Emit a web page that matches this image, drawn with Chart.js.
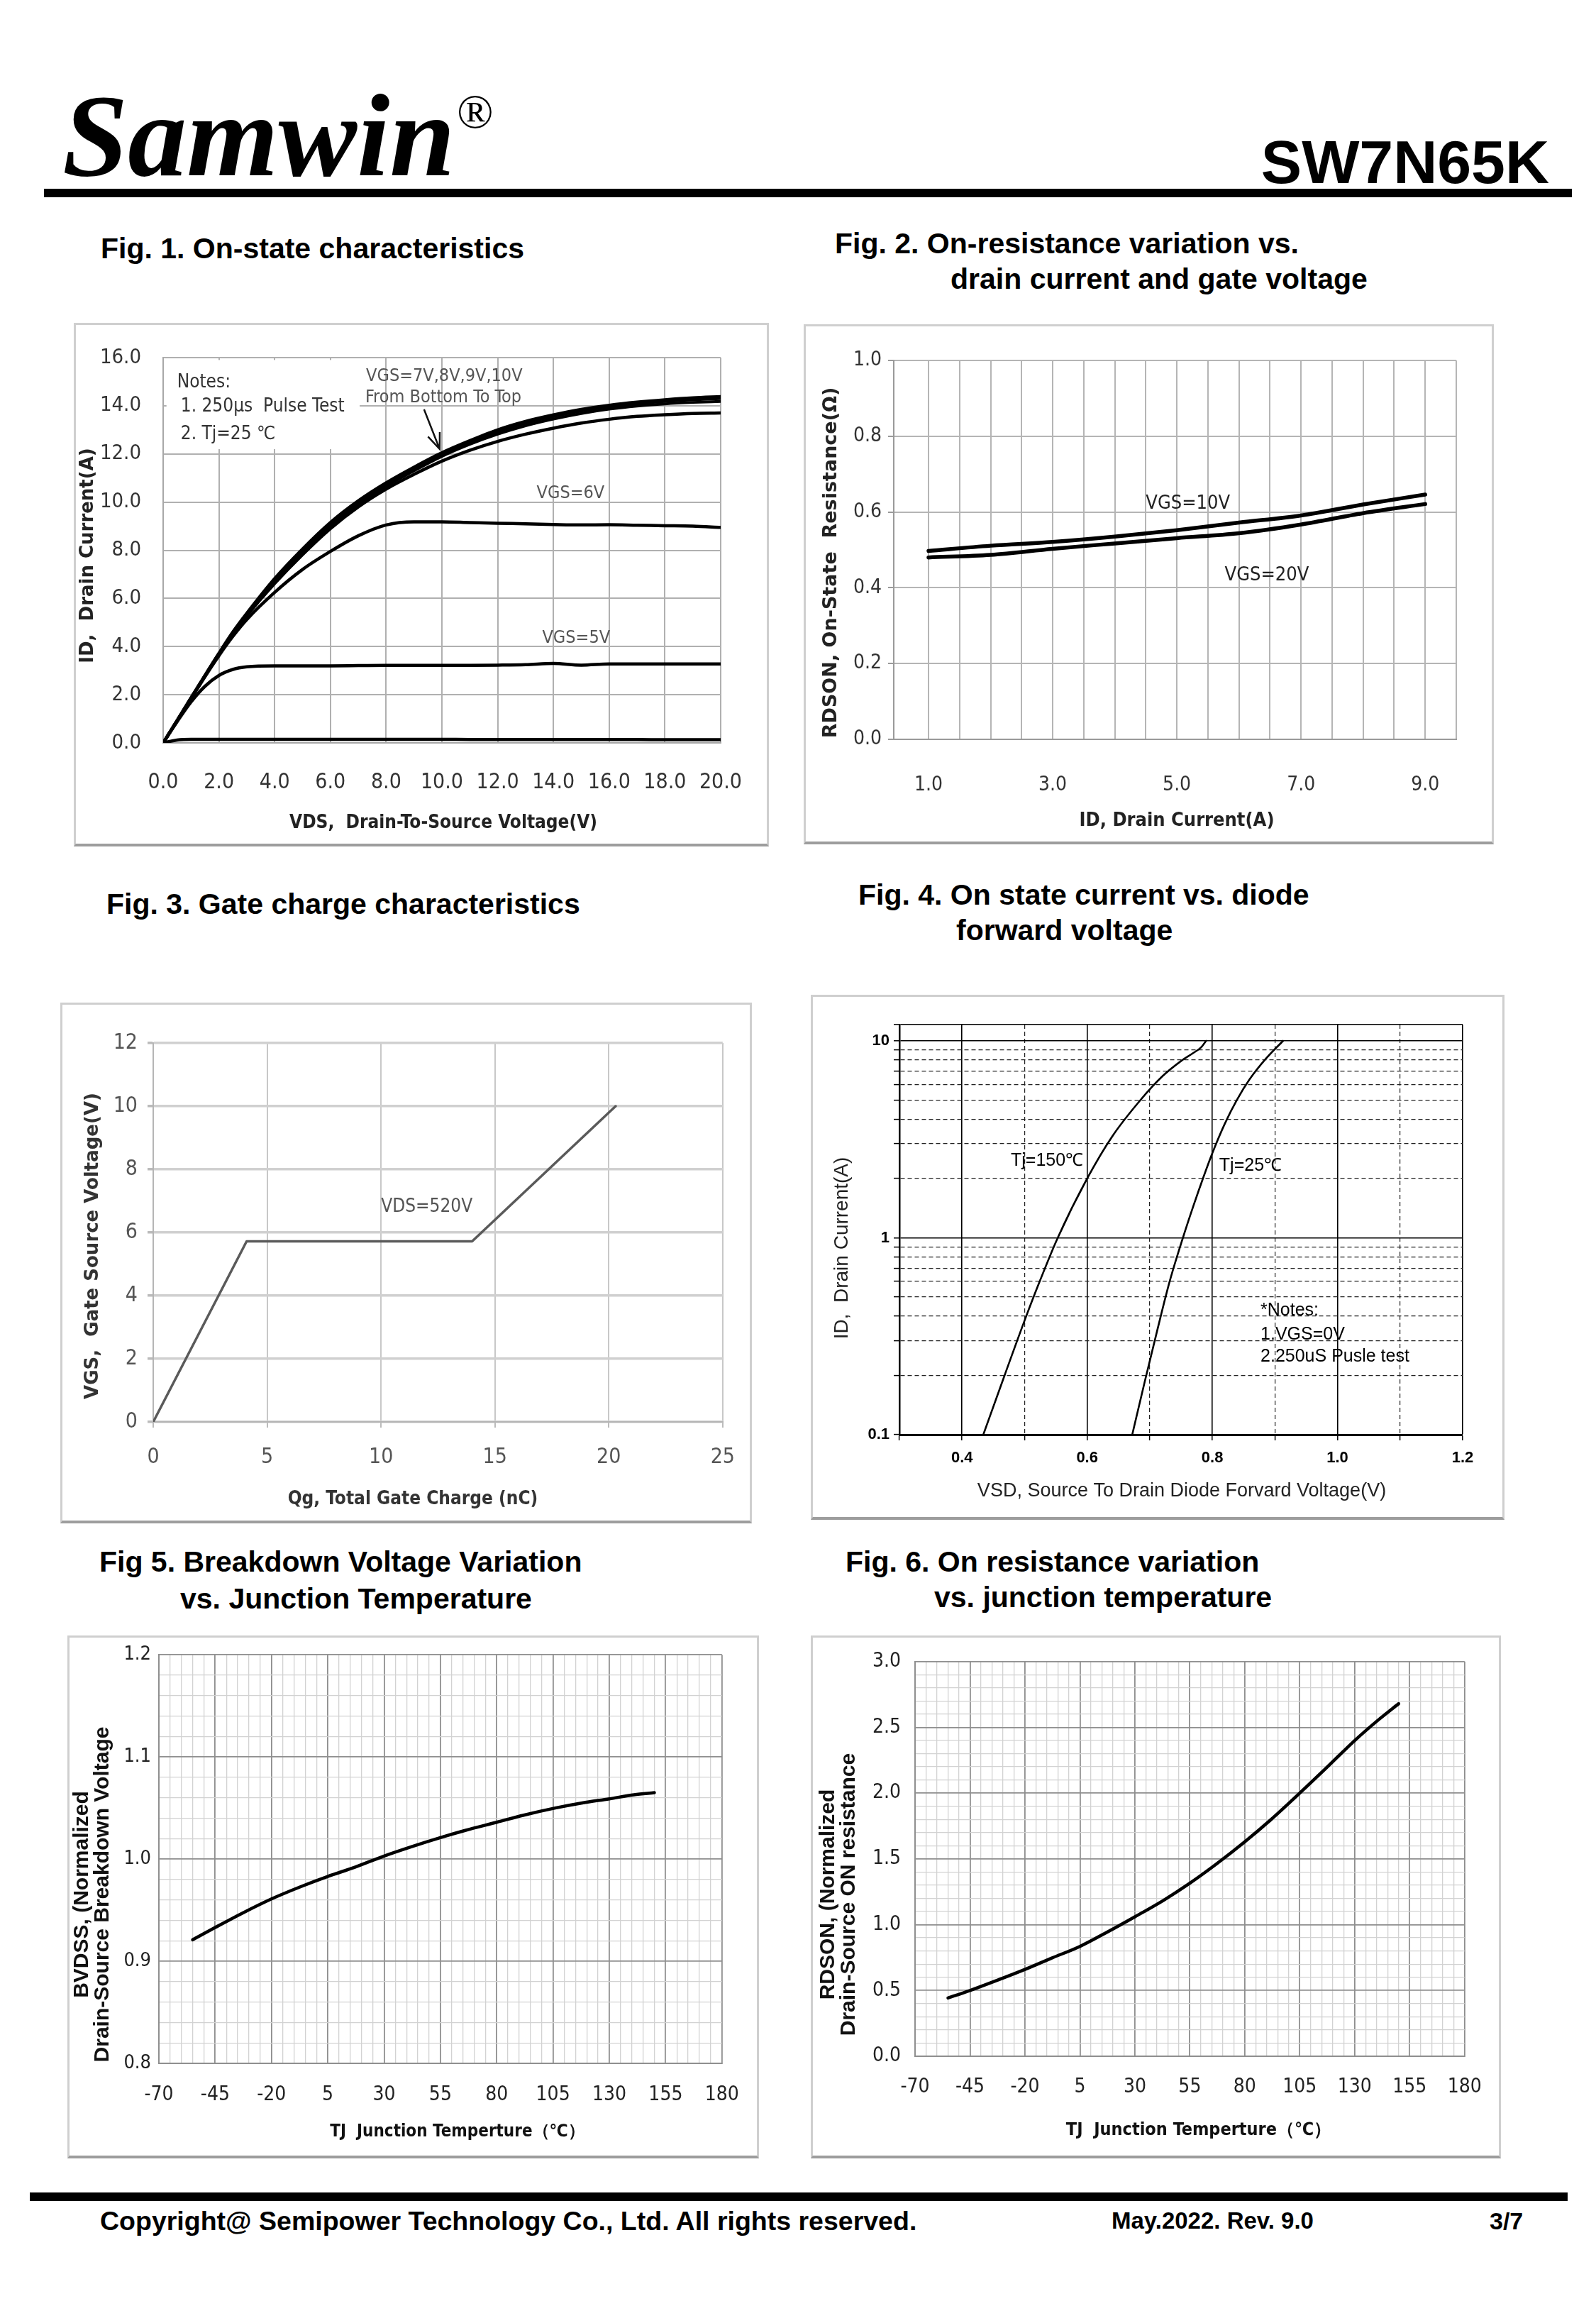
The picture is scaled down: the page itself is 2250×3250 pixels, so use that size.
<!DOCTYPE html>
<html><head><meta charset="utf-8"><title>SW7N65K</title>
<script src="https://cdn.jsdelivr.net/npm/chart.js@4.4.1/dist/chart.umd.min.js"></script>
<style>
html,body{margin:0;padding:0;background:#fff}
body{width:2250px;height:3250px;position:relative;overflow:hidden;font-family:"Liberation Sans",Arial,sans-serif;color:#000}
.t{position:absolute;white-space:nowrap;line-height:1}
.ft{font-weight:bold;font-size:41px}
.box{position:absolute;box-sizing:border-box;border:3px solid #cfcfcf;border-bottom:4px solid #9d9d9d;background:#fff}
.box canvas{position:absolute;left:-3px;top:-3px}
.rule{position:absolute;background:#000}
</style></head><body>
<div class="t" style="left:88px;top:108px;font-family:'Liberation Serif','Times New Roman',serif;font-weight:bold;font-style:italic;font-size:166px">Samwin</div>
<div class="t" style="left:644px;top:123px;font-family:'Liberation Serif','Times New Roman',serif;font-size:68px">®</div>
<div class="t" style="right:66px;top:185px;font-weight:bold;font-size:86px">SW7N65K</div>
<div class="rule" style="left:62px;top:266px;width:2154px;height:12px"></div>

<div class="t ft" style="left:142px;top:330px">Fig. 1. On-state characteristics</div>
<div class="t ft" style="left:1177px;top:323px">Fig. 2. On-resistance variation vs.</div>
<div class="t ft" style="left:1340px;top:373px">drain current and gate voltage</div>
<div class="t ft" style="left:150px;top:1254px">Fig. 3. Gate charge characteristics</div>
<div class="t ft" style="left:1210px;top:1241px">Fig. 4. On state current vs. diode</div>
<div class="t ft" style="left:1348px;top:1291px">forward voltage</div>
<div class="t ft" style="left:140px;top:2181px">Fig 5. Breakdown Voltage Variation</div>
<div class="t ft" style="left:254px;top:2233px">vs. Junction Temperature</div>
<div class="t ft" style="left:1192px;top:2181px">Fig. 6. On resistance variation</div>
<div class="t ft" style="left:1317px;top:2231px">vs. junction temperature</div>

<div class="rule" style="left:42px;top:3090px;width:2168px;height:12px"></div>
<div class="t" style="left:141px;top:3112px;font-weight:bold;font-size:37.5px">Copyright@ Semipower Technology Co., Ltd. All rights reserved.</div>
<div class="t" style="left:1567px;top:3113px;font-weight:bold;font-size:33px">May.2022. Rev. 9.0</div>
<div class="t" style="left:2100px;top:3113px;font-weight:bold;font-size:34px">3/7</div>

<script>
// ================= DATA =================
// Fig.1 On-state characteristics (ID vs VDS)
const vds      = [0,0.5,1,1.5,2,2.5,3,4,5,6,7,8,9,10,11,12,13,14,15,16,17,18,19,20];
const idVgs10  = [0,0.93,1.87,2.8,3.72,4.6,5.38,6.82,8.05,9.15,10.05,10.8,11.45,12.05,12.55,13.0,13.35,13.62,13.85,14.02,14.15,14.25,14.33,14.38];
const idVgs9   = [0,0.93,1.87,2.8,3.71,4.58,5.35,6.77,8.0,9.08,9.98,10.72,11.38,11.97,12.48,12.92,13.27,13.55,13.78,13.95,14.08,14.18,14.25,14.3];
const idVgs8   = [0,0.92,1.86,2.79,3.7,4.56,5.32,6.72,7.94,9.0,9.9,10.65,11.3,11.9,12.4,12.82,13.17,13.45,13.68,13.86,13.99,14.08,14.14,14.18];
const idVgs7   = [0,0.92,1.85,2.78,3.68,4.53,5.28,6.62,7.82,8.9,9.8,10.54,11.15,11.7,12.15,12.52,12.82,13.07,13.28,13.44,13.56,13.63,13.68,13.7];
const idVgs6   = [0,0.91,1.83,2.75,3.62,4.42,5.12,6.25,7.2,7.95,8.6,9.05,9.18,9.18,9.15,9.12,9.1,9.07,9.05,9.06,9.04,9.02,9.0,8.95];
const idVgs5   = [0,0.88,1.7,2.35,2.8,3.05,3.16,3.2,3.2,3.2,3.21,3.22,3.22,3.22,3.22,3.23,3.25,3.3,3.23,3.28,3.28,3.28,3.28,3.28];
const idVgs4   = [0,0.12,0.15,0.15,0.15,0.15,0.15,0.15,0.15,0.15,0.15,0.15,0.15,0.15,0.14,0.14,0.14,0.14,0.14,0.14,0.14,0.13,0.13,0.13];
const f1XTicks = [0,2,4,6,8,10,12,14,16,18,20];
const f1YTicks = [0,2,4,6,8,10,12,14,16];

// Fig.2 RDS(on) vs ID
const idA       = [1,2,3,4,5,6,7,8,9];
const rdsVgs10  = [0.497,0.511,0.521,0.535,0.552,0.572,0.591,0.620,0.646];
const rdsVgs20  = [0.480,0.487,0.503,0.517,0.531,0.544,0.567,0.597,0.621];
const f2XGrid   = [0.44,1,1.5,2,2.5,3,3.5,4,4.5,5,5.5,6,6.5,7,7.5,8,8.5,9,9.5];
const f2XLabels = [1,3,5,7,9];
const f2YTicks  = [0,0.2,0.4,0.6,0.8,1.0];

// Fig.3 Gate charge
const qg   = [0,4.1,14.0,20.3];
const vgsQ = [0,5.72,5.72,10.0];
const f3XTicks = [0,5,10,15,20,25];
const f3YTicks = [0,2,4,6,8,10,12];

// Fig.4 Diode forward characteristics
const vsd150 = [0.434,0.468,0.50,0.525,0.553,0.60,0.64,0.685,0.72,0.75,0.77,0.782,0.79];
const isd150 = [0.1,0.2,0.38,0.61,1.0,2.0,3.27,5.0,6.6,7.9,8.7,9.27,10];
const vsd25  = [0.672,0.692,0.712,0.732,0.753,0.77,0.785,0.80,0.82,0.839,0.86,0.886,0.913];
const isd25  = [0.1,0.186,0.339,0.603,1.0,1.46,2.0,2.69,3.8,5.0,6.41,8.15,10];
const f4XLabels = [0.4,0.6,0.8,1.0,1.2];
const f4YLabels = [0.1,1,10];

// Fig.5 BVDSS vs TJ
const tj5   = [-55,-45,-33,-20,-7,5,17,30,42,55,66,80,92,106,118,130,141,150];
const bvdss = [0.921,0.933,0.947,0.961,0.973,0.983,0.992,1.003,1.012,1.021,1.028,1.036,1.043,1.050,1.055,1.059,1.063,1.065];
const tjLabels = [-70,-45,-20,5,30,55,80,105,130,155,180];
const bvLabels = [0.8,0.9,1.0,1.1,1.2];

// Fig.6 RDS(on) vs TJ
const tj6     = [-55,-45,-33,-20,-8,5,17,30,43,55,67,80,92,105,117,130,141,150];
const rdsNorm = [0.443,0.50,0.575,0.66,0.745,0.835,0.94,1.06,1.185,1.315,1.46,1.63,1.80,2.0,2.19,2.40,2.56,2.68];
const rdsLabels = [0,0.5,1,1.5,2,2.5,3];

// ================= HELPERS =================
const NARROW = '"DejaVu Sans Condensed","Liberation Sans Narrow","Arial Narrow","Liberation Sans",sans-serif';
const SANS = '"Liberation Sans",Arial,sans-serif';
const VERD = '"DejaVu Sans",Verdana,sans-serif';
Chart.defaults.font.family = SANS;
Chart.defaults.color = '#222';

const P = (xs, ys) => xs.map((x, i) => ({x: x, y: ys[i]}));
const has = (arr, v) => arr.some(a => Math.abs(a - v) < 1e-6);
const setTicks = vals => (s => { s.ticks = vals.map(v => ({value: v})); });
function range(a, b, step) { const r = []; const n = Math.round((b - a) / step); for (let i = 0; i <= n; i++) r.push(Math.round((a + i * step) * 1e6) / 1e6); return r; }

function notesPlugin(items, ytitle, xtitle) {
  const px = (c, x, y) => [c.scales.x.getPixelForValue(x), c.scales.y.getPixelForValue(y)];
  return {
    id: 'notes',
    beforeDatasetsDraw(chart) {
      const ctx = chart.ctx; ctx.save();
      items.filter(n => n.rect).forEach(n => {
        const [x1, y1] = px(chart, n.rect[0], n.rect[1]); const [x2, y2] = px(chart, n.rect[2], n.rect[3]);
        ctx.fillStyle = '#fff'; ctx.fillRect(Math.min(x1, x2), Math.min(y1, y2), Math.abs(x2 - x1), Math.abs(y2 - y1));
      });
      ctx.restore();
    },
    afterDatasetsDraw(chart) {
      const ctx = chart.ctx; ctx.save();
      items.forEach(n => {
        if (n.rect) return;
        if (n.arrow) {
          const [x1, y1] = px(chart, n.arrow[0], n.arrow[1]); const [x2, y2] = px(chart, n.arrow[2], n.arrow[3]);
          ctx.strokeStyle = n.color || '#000'; ctx.lineWidth = 2.5; ctx.beginPath();
          ctx.moveTo(x1, y1); ctx.lineTo(x2, y2);
          const a = Math.atan2(y2 - y1, x2 - x1), L = 24, sp = 0.38;
          ctx.moveTo(x2 - L * Math.cos(a - sp), y2 - L * Math.sin(a - sp)); ctx.lineTo(x2, y2);
          ctx.lineTo(x2 - L * Math.cos(a + sp), y2 - L * Math.sin(a + sp));
          ctx.stroke(); return;
        }
        const [x, y] = px(chart, n.x, n.y);
        ctx.font = n.font; ctx.fillStyle = n.color || '#333'; ctx.textAlign = 'left'; ctx.textBaseline = 'middle';
        ctx.fillText(n.text, x, y);
      });
      ctx.restore();
    },
    afterDraw(chart) {
      const ctx = chart.ctx; ctx.save();
      ctx.textAlign = 'center'; ctx.textBaseline = 'middle';
      if (ytitle) {
        ctx.font = ytitle.font; ctx.fillStyle = ytitle.color || '#222';
        ytitle.lines.forEach((line, i) => {
          ctx.save(); ctx.translate(ytitle.x[i], ytitle.yc); ctx.rotate(-Math.PI / 2);
          ctx.fillText(line, 0, 0); ctx.restore();
        });
      }
      if (xtitle) {
        ctx.font = xtitle.font; ctx.fillStyle = xtitle.color || '#222';
        ctx.fillText(xtitle.text, xtitle.xc, xtitle.y);
      }
      ctx.restore();
    }
  };
}

function build(g, xo, yo, datasets, notes, ytitle, xtitle) {
  const [bx, by, W, H] = g.box, [pl, pt, pr, pb] = g.plot;
  const wrap = document.createElement('div'); wrap.className = 'box';
  Object.assign(wrap.style, {left: bx + 'px', top: by + 'px', width: W + 'px', height: H + 'px'});
  const cv = document.createElement('canvas');
  cv.width = W; cv.height = H; cv.style.width = W + 'px'; cv.style.height = H + 'px';
  wrap.appendChild(cv); document.body.appendChild(wrap);
  const tl = o => (o.grid && o.grid.drawTicks) ? o.grid.tickLength : 0;
  xo.ticks.padding = g.xLab - pb - tl(xo) - 0.6 * xo.ticks.font.size;
  yo.ticks.padding = pl - g.yLab - tl(yo);
  xo.title = {display: false};
  yo.title = {display: false};
  Object.assign(xo.ticks, {autoSkip: false, maxRotation: 0, minRotation: 0});
  Object.assign(yo.ticks, {autoSkip: false});
  xo.afterFit = s => { s.height = H - pb; };
  yo.afterFit = s => { s.width = pl; };
  if (xtitle) { xtitle.xc = g.xTc; xtitle.y = g.xTitle; }
  return new Chart(cv.getContext('2d'), {
    type: 'line',
    data: {datasets: datasets},
    options: {
      responsive: false, maintainAspectRatio: false, animation: false, devicePixelRatio: 1,
      layout: {padding: {left: 0, top: pt, right: W - pr, bottom: 0}},
      plugins: {legend: {display: false}, tooltip: {enabled: false}},
      elements: {point: {radius: 0}, line: {borderCapStyle: 'round', borderJoinStyle: 'round', fill: false}},
      scales: {x: xo, y: yo}
    },
    plugins: [notesPlugin(notes || [], ytitle, xtitle)]
  });
}
const ds = (xs, ys, w, color, mono) => ({data: P(xs, ys), borderColor: color || '#000', borderWidth: w, cubicInterpolationMode: mono === false ? 'default' : 'monotone', tension: 0, pointRadius: 0});

// ================= FIG 1 =================
build({box: [104, 455, 980, 738], plot: [126, 49, 932, 592], xLab: 648, yLab: 95, xTitle: 705, xTc: 521},
  {type: 'linear', min: 0, max: 20, afterBuildTicks: setTicks(f1XTicks),
   grid: {color: '#b0b0b0', lineWidth: 2, drawTicks: false}, border: {color: '#a8a8a8', width: 2},
   ticks: {font: {family: NARROW, size: 30}, color: '#333', callback: v => v.toFixed(1)}},
  {type: 'linear', min: 0, max: 16, afterBuildTicks: setTicks(f1YTicks),
   grid: {color: '#b0b0b0', lineWidth: 2, drawTicks: false}, border: {color: '#a8a8a8', width: 2},
   ticks: {font: {family: NARROW, size: 29}, color: '#333', callback: v => v.toFixed(1)}},
  [ds(vds, idVgs7, 4.5), ds(vds, idVgs8, 4), ds(vds, idVgs9, 4), ds(vds, idVgs10, 4.5),
   ds(vds, idVgs6, 4.5), ds(vds, idVgs5, 4.5), ds(vds, idVgs4, 4.5)],
  [{rect: [0.12, 12.2, 7.05, 15.9]},
   {text: 'Notes:', x: 0.5, y: 14.96, font: '26px ' + NARROW, color: '#333'},
   {text: '1. 250μs  Pulse Test', x: 0.63, y: 13.95, font: '26px ' + NARROW, color: '#333'},
   {text: '2. Tj=25 ℃', x: 0.63, y: 12.8, font: '26px ' + NARROW, color: '#333'},
   {text: 'VGS=7V,8V,9V,10V', x: 7.28, y: 15.22, font: '25px ' + NARROW, color: '#555'},
   {text: 'From Bottom To Top', x: 7.25, y: 14.34, font: '25px ' + NARROW, color: '#555'},
   {text: 'VGS=6V', x: 13.4, y: 10.35, font: '25px ' + NARROW, color: '#555'},
   {text: 'VGS=5V', x: 13.6, y: 4.35, font: '25px ' + NARROW, color: '#555'},
   {arrow: [9.36, 13.85, 9.92, 12.2], color: '#111'}],
  {lines: ['ID,  Drain Current(A)'], x: [20], yc: 328, font: 'bold 26px ' + VERD, color: '#222'},
  {text: 'VDS,  Drain-To-Source Voltage(V)', font: 'bold 26px ' + NARROW, color: '#222'});

// ================= FIG 2 =================
build({box: [1133, 457, 973, 733], plot: [127, 51, 920, 585], xLab: 650, yLab: 110, xTitle: 700, xTc: 526},
  {type: 'linear', min: 0.44, max: 9.5, afterBuildTicks: setTicks(f2XGrid),
   grid: {color: '#b5b5b5', lineWidth: 2, drawTicks: false}, border: {color: '#9a9a9a', width: 2},
   ticks: {font: {family: NARROW, size: 28}, color: '#333', callback: v => has(f2XLabels, v) ? v.toFixed(1) : ''}},
  {type: 'linear', min: 0, max: 1, afterBuildTicks: setTicks(f2YTicks),
   grid: {color: '#b5b5b5', lineWidth: 2, drawTicks: true, tickLength: 8, tickColor: '#9a9a9a'}, border: {color: '#9a9a9a', width: 2},
   ticks: {font: {family: NARROW, size: 28}, color: '#333', callback: v => v.toFixed(1)}},
  [ds(idA, rdsVgs10, 5.5), ds(idA, rdsVgs20, 5.5)],
  [{text: 'VGS=10V', x: 4.5, y: 0.622, font: '27px ' + NARROW, color: '#222'},
   {text: 'VGS=20V', x: 5.77, y: 0.433, font: '27px ' + NARROW, color: '#222'}],
  {lines: ['RDSON, On-State  Resistance(Ω)'], x: [39], yc: 336, font: 'bold 27px ' + VERD, color: '#222'},
  {text: 'ID, Drain Current(A)', font: 'bold 27px ' + NARROW, color: '#222'});

// ================= FIG 3 =================
build({box: [85, 1413, 975, 734], plot: [131, 57, 939, 591], xLab: 641, yLab: 109, xTitle: 700, xTc: 497},
  {type: 'linear', min: 0, max: 25, afterBuildTicks: setTicks(f3XTicks),
   grid: {color: '#c8c8c8', lineWidth: 2, drawTicks: true, tickLength: 8, tickColor: '#bbb'}, border: {color: '#b5b5b5', width: 2},
   ticks: {font: {family: NARROW, size: 30}, color: '#555'}},
  {type: 'linear', min: 0, max: 12, afterBuildTicks: setTicks(f3YTicks),
   grid: {color: '#d0d0d0', lineWidth: 3.5, drawTicks: true, tickLength: 8, tickColor: '#bbb'}, border: {color: '#b5b5b5', width: 2},
   ticks: {font: {family: NARROW, size: 30}, color: '#555'}},
  [ds(qg, vgsQ, 3.5, '#5a5a5a', false)],
  [{text: 'VDS=520V', x: 10.0, y: 6.8, font: '26px ' + NARROW, color: '#555'}],
  {lines: ['VGS,  Gate Source Voltage(V)'], x: [46], yc: 343, font: 'bold 26px ' + VERD, color: '#333'},
  {text: 'Qg, Total Gate Charge (nC)', font: 'bold 26px ' + NARROW, color: '#333'});

// ================= FIG 4 =================
const f4XGrid = range(0.3, 1.2, 0.1);
const f4YGrid = [];
[0.1, 1].forEach(d => { for (let k = 1; k <= 9; k++) f4YGrid.push(Math.round(d * k * 1e6) / 1e6); });
f4YGrid.push(10, 12.1);
build({box: [1143, 1402, 978, 740], plot: [125, 42, 919, 620], xLab: 653, yLab: 111, xTitle: 700, xTc: 523},
  {type: 'linear', min: 0.3, max: 1.2, afterBuildTicks: setTicks(f4XGrid),
   grid: {color: c => has(f4XLabels, c.tick.value) || has([0.3], c.tick.value) ? '#000' : '#222',
          lineWidth: c => has(f4XLabels, c.tick.value) ? 1.6 : 1.2, drawTicks: true, tickLength: 8, tickColor: '#000', tickWidth: 1.5},
   border: {color: '#000', width: 3, dash: c => (c.tick && !has(f4XLabels, c.tick.value) && !has([0.3], c.tick.value)) ? [6, 4] : []},
   ticks: {font: {family: SANS, size: 22, weight: 'bold'}, color: '#000', callback: v => has(f4XLabels, v) ? v.toFixed(1) : ''}},
  {type: 'logarithmic', min: 0.1, max: 12.1, afterBuildTicks: setTicks(f4YGrid),
   grid: {color: c => has([1, 10, 12.1], c.tick.value) ? '#000' : '#222',
          lineWidth: c => has([1, 10, 12.1], c.tick.value) ? 1.6 : 1.2, drawTicks: true, tickLength: 8, tickColor: '#000', tickWidth: 1.5},
   border: {color: '#000', width: 2.5, dash: c => (c.tick && !has([0.1, 1, 10, 12.1], c.tick.value)) ? [6, 4] : []},
   ticks: {font: {family: SANS, size: 22, weight: 'bold'}, color: '#000', callback: v => has(f4YLabels, v) ? String(v) : ''}},
  [ds(vsd150, isd150, 2.6), ds(vsd25, isd25, 2.6)],
  [{text: 'Tj=150℃', x: 0.478, y: 2.45, font: '25px ' + SANS, color: '#000'},
   {text: 'Tj=25℃', x: 0.811, y: 2.31, font: '25px ' + SANS, color: '#000'},
   {text: '*Notes:', x: 0.877, y: 0.428, font: '25px ' + SANS, color: '#000'},
   {text: '1.VGS=0V', x: 0.877, y: 0.321, font: '25px ' + SANS, color: '#000'},
   {text: '2.250uS Pusle test', x: 0.877, y: 0.248, font: '25px ' + SANS, color: '#000'}],
  {lines: ['ID,  Drain Current(A)'], x: [44], yc: 357, font: '28px ' + SANS, color: '#222'},
  {text: 'VSD, Source To Drain Diode Forvard Voltage(V)', font: '27px ' + SANS, color: '#222'});

// ================= FIG 5 =================
const tjGrid = range(-70, 180, 5);
const bvGrid = range(0.8, 1.2, 0.02);
const gridMM = labels => ({color: c => has(labels, c.tick.value) ? '#8f8f8f' : '#d2d2d2',
                           lineWidth: c => has(labels, c.tick.value) ? 1.8 : 1.3, drawTicks: false});
build({box: [95, 2305, 975, 737], plot: [129, 24, 930, 603], xLab: 648, yLab: 118, xTitle: 700, xTc: 550},
  {type: 'linear', min: -70, max: 180, afterBuildTicks: setTicks(tjGrid), grid: gridMM(tjLabels),
   border: {color: '#8f8f8f', width: 2},
   ticks: {font: {family: NARROW, size: 28}, color: '#222', callback: v => has(tjLabels, v) ? String(v) : ''}},
  {type: 'linear', min: 0.8, max: 1.2, afterBuildTicks: setTicks(bvGrid), grid: gridMM(bvLabels),
   border: {color: '#8f8f8f', width: 2},
   ticks: {font: {family: NARROW, size: 27}, color: '#222', callback: v => has(bvLabels, v) ? v.toFixed(1) : ''}},
  [ds(tj5, bvdss, 4.5)], [],
  {lines: ['BVDSS, (Normalized', 'Drain-Source Breakdown Voltage'], x: [21, 50], yc: 365, font: 'bold 30px ' + SANS, color: '#111'},
  {text: 'TJ  Junction Temperture（℃）', font: 'bold 24px ' + NARROW, color: '#111'});

// ================= FIG 6 =================
const rdsGrid = range(0, 3, 0.1);
build({box: [1143, 2305, 973, 737], plot: [147, 33, 926, 593], xLab: 637, yLab: 127, xTitle: 697, xTc: 547},
  {type: 'linear', min: -70, max: 180, afterBuildTicks: setTicks(tjGrid), grid: gridMM(tjLabels),
   border: {color: '#8f8f8f', width: 2},
   ticks: {font: {family: NARROW, size: 28}, color: '#222', callback: v => has(tjLabels, v) ? String(v) : ''}},
  {type: 'linear', min: 0, max: 3, afterBuildTicks: setTicks(rdsGrid), grid: gridMM(rdsLabels),
   border: {color: '#8f8f8f', width: 2},
   ticks: {font: {family: NARROW, size: 28}, color: '#222', callback: v => has(rdsLabels, v) ? v.toFixed(1) : ''}},
  [ds(tj6, rdsNorm, 4.5)], [],
  {lines: ['RDSON, (Normalized', 'Drain-Source ON resistance'], x: [25, 54], yc: 365, font: 'bold 30px ' + SANS, color: '#111'},
  {text: 'TJ  Junction Temperture（℃）', font: 'bold 25px ' + NARROW, color: '#111'});
</script>
</body></html>
